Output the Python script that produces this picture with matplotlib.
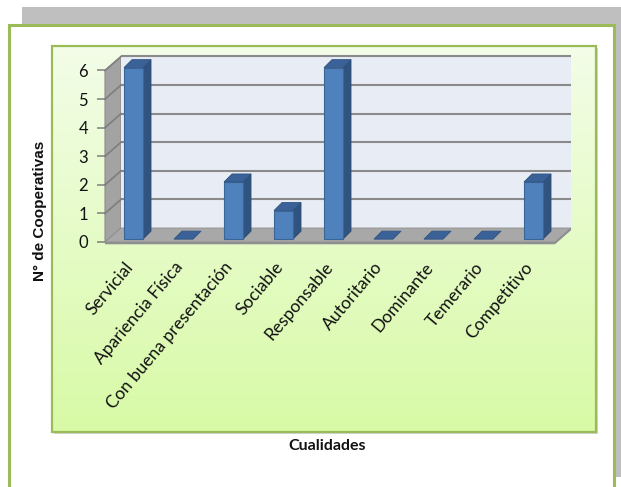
import matplotlib.pyplot as plt
import numpy as np
from matplotlib.patches import Polygon, Rectangle

# datos
cualidades = ['Servicial', 'Apariencia Física', 'Con buena presentación', 'Sociable',
              'Responsable', 'Autoritario', 'Dominante', 'Temerario', 'Competitivo']
cooperativas = [6, 0, 2, 1, 6, 0, 0, 0, 2]
y_ticks = [0, 1, 2, 3, 4, 5, 6]

plt.rcParams['font.family'] = ['Lato', 'DejaVu Sans']

W, H = 621, 487
fig = plt.figure(figsize=(W / 100, H / 100), dpi=100)

# fondo: sombra, marco y panel verde con degradado (coordenadas en pixeles)
bg = fig.add_axes([0, 0, 1, 1])
bg.add_patch(Rectangle((22, 7), 610, 470, fc='#BFBFBF', ec='none'))
bg.add_patch(Rectangle((9, 25), 605, 470, fc='white', ec='#9BBB59', lw=2.2))
bg.add_patch(Rectangle((54, 48), 544, 386, fc='#d4d4d4', ec='none'))
grad = np.linspace(0, 1, 256)[:, None, None]
top = np.array([0xF3, 0xFD, 0xE8]) / 255
bot = np.array([0xD8, 0xFA, 0xA6]) / 255
img = top + (bot - top) * grad
bg.imshow(img, extent=(52, 596, 432, 46), aspect='auto', zorder=1)
bg.add_patch(Rectangle((52, 46), 544, 386, fc='none', ec='#9BBB59', lw=1.6, zorder=2))
bg.set_xlim(0, W)
bg.set_ylim(H, 0)
bg.axis('off')

bg.text(327, 446, 'Cualidades', ha='center', va='center', fontsize=11.5,
        fontweight='bold', color='#111111', zorder=3)
bg.text(40, 211, 'N° de Cooperativas', ha='center', va='center', rotation=90,
        fontsize=11, fontweight='bold', family='Liberation Sans', color='#111111', zorder=3)

# grafico de columnas con efecto 3D
ax = fig.add_axes([105 / W, 1 - 242 / H, 450 / W, 171.5 / H], zorder=5)
ax.set_xlim(-0.5, len(cualidades) - 0.5)
ax.set_ylim(0, 6)
ax.patch.set_visible(False)
for s in ax.spines.values():
    s.set_visible(False)

x0, x1 = -0.5, len(cualidades) - 0.5
bx, by = 0.32, 0.49      # profundidad de pared/piso
ymax = max(y_ticks)

# pared izquierda, pared de fondo y piso
ax.add_patch(Polygon([(x0, 0), (x0 + bx, by), (x0 + bx, ymax + by), (x0, ymax)],
                     fc='#A3A3A3', ec='#8C8C8C', lw=0.8, clip_on=False, zorder=1))
ax.add_patch(Polygon([(x0 + bx, by), (x1 + bx, by), (x1 + bx, ymax + by), (x0 + bx, ymax + by)],
                     fc='#E8ECF4', ec='none', clip_on=False, zorder=1))
ax.add_patch(Polygon([(x0, -0.08), (x1, -0.08), (x1 + bx, by - 0.08), (x1 + bx, by),
                      (x0 + bx, by), (x0, 0)],
                     fc='#8F8F8F', ec='none', clip_on=False, zorder=2))
ax.add_patch(Polygon([(x0, 0), (x1, 0), (x1 + bx, by), (x0 + bx, by)],
                     fc='#A8A8A8', ec='#8F8F8F', lw=0.6, clip_on=False, zorder=2))

# lineas de division
for v in y_ticks[1:]:
    ax.plot([x0 + bx, x1 + bx], [v + by, v + by], color='#8A8A8A', lw=1.5,
            clip_on=False, zorder=1.5, solid_capstyle='butt')
    ax.plot([x0, x0 + bx], [v, v + by], color='#7E7E7E', lw=1.2,
            clip_on=False, zorder=1.5)

# columnas
ox, oy = 0.07, 0.1
w = 0.38
dx, dy = 0.16, 0.28
for i, v in enumerate(cooperativas):
    l, r = i + ox - w / 2, i + ox + w / 2
    if v > 0:
        ax.add_patch(Polygon([(r, oy), (r + dx, oy + dy), (r + dx, v + oy + dy), (r, v + oy)],
                             fc='#30547F', ec='#2A4A72', lw=0.6, clip_on=False, zorder=3))
        ax.add_patch(Rectangle((l, oy), w, v, fc='#4F81BD', ec='#3A6597', lw=0.8,
                               clip_on=False, zorder=3))
    ax.add_patch(Polygon([(l, v + oy), (r, v + oy), (r + dx, v + oy + dy), (l + dx, v + oy + dy)],
                         fc='#3A6298', ec='#2F5280', lw=0.6, clip_on=False, zorder=3))

ax.set_yticks(y_ticks)
ax.set_yticklabels([str(t) for t in y_ticks])
ax.tick_params(axis='y', length=5.8, width=1.1, color='#7F7F7F', pad=6.5,
               labelsize=12, labelcolor='#111111')
ax.set_xticks(range(len(cualidades)))
ax.set_xticklabels(cualidades, rotation=50, ha='right', va='center',
                   rotation_mode='anchor', fontsize=12.5, color='#111111')
ax.tick_params(axis='x', length=0, pad=16)

fig.savefig('out.png', dpi=100)
